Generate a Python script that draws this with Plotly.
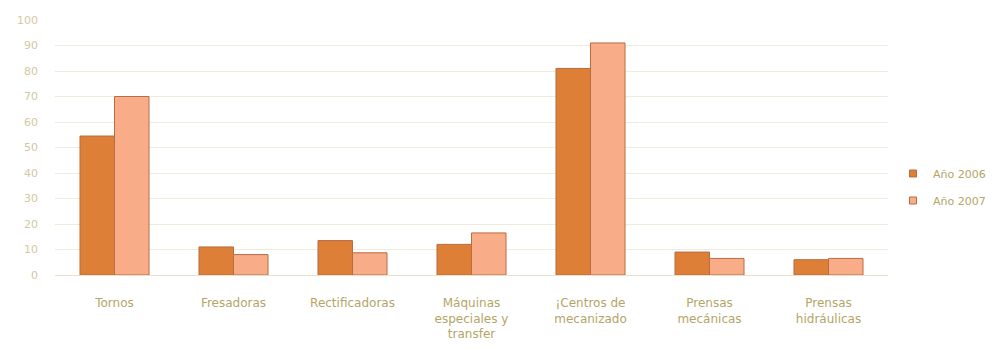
import plotly.graph_objects as go

categories = [
    "Tornos",
    "Fresadoras",
    "Rectificadoras",
    "Máquinas<br>especiales y<br>transfer",
    "¡Centros de<br>mecanizado",
    "Prensas<br>mecánicas",
    "Prensas<br>hidráulicas",
]
series_names = ["Año 2006", "Año 2007"]
anio_2006 = [54.5, 11, 13.5, 12, 81, 9, 6]
anio_2007 = [70, 8, 8.7, 16.5, 91, 6.5, 6.5]
y_ticks = [0, 10, 20, 30, 40, 50, 60, 70, 80, 90, 100]

FONT = "DejaVu Sans"
COLORS = ["#de7f38", "#f8ad88"]
EDGE = "#b86c42"
LABEL = "#b3a567"
TICK = "#d3c9a2"

fig = go.Figure()
for name, values, color in zip(series_names, [anio_2006, anio_2007], COLORS):
    fig.add_trace(go.Bar(name=name, x=categories, y=values, showlegend=False,
                         marker=dict(color=color, line=dict(color=EDGE, width=1))))
    # small square legend key for the series
    fig.add_trace(go.Scatter(name=name, x=[None], y=[None], mode="markers",
                             legendgroup=name, showlegend=True, hoverinfo="skip",
                             marker=dict(symbol="square", size=7, color=color,
                                         line=dict(color=EDGE, width=1))))

fig.update_layout(
    width=1003, height=350,
    margin=dict(l=55, r=115, t=20, b=75, autoexpand=False),
    paper_bgcolor="white", plot_bgcolor="white",
    barmode="group", bargap=0.42, bargroupgap=0,
    font=dict(family=FONT, size=11, color=LABEL),
    showlegend=True,
    legend=dict(x=(893 - 55) / 833, y=(275 - 159) / 255,
                xanchor="left", yanchor="top",
                font=dict(family=FONT, size=11, color=LABEL),
                tracegroupgap=8, itemwidth=30, bgcolor="rgba(0,0,0,0)"),
    xaxis=dict(showgrid=False, showline=False, ticks="", zeroline=False,
               tickfont=dict(family=FONT, size=12, color=LABEL), tickangle=0,
               ticklabelstandoff=19),
    yaxis=dict(range=[0, 100], tickvals=y_ticks, showgrid=True,
               gridcolor="#efebda", gridwidth=1, zeroline=True,
               zerolinecolor="#e8e2cc", zerolinewidth=1, showline=False,
               ticks="", ticklabelstandoff=16,
               tickfont=dict(family=FONT, size=11, color=TICK)),
)

fig.write_html("out.html")
